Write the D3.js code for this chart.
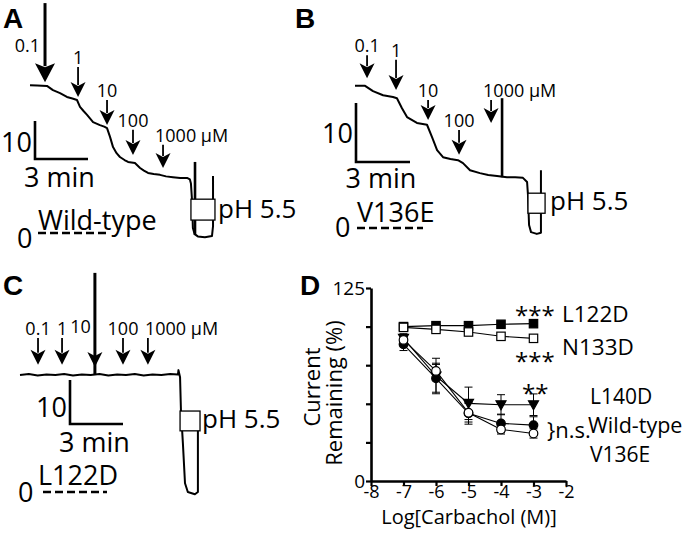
<!DOCTYPE html>
<html><head><meta charset="utf-8">
<script src="https://cdn.jsdelivr.net/npm/d3@7"></script>
<style>
body{margin:0;background:#fff}
svg{display:block}
text{font-family:'Open Sans',sans-serif;fill:#000}
</style></head>
<body><svg id="fig" width="690" height="536"></svg>
<script>
// ---------- DATA ----------
// Traces: [time (min), current (scale units)]
const traceA = [[0,38.9],[0.4,38.8],[0.96,38.7],[1.3,37.6],[1.7,36.8],[2.09,35.8],[2.4,35.4],[2.66,35.0],[2.83,33.2],[3.03,32.1],[3.23,31.1],[3.57,29.2],[3.96,28.4],[4.2,28.0],[4.36,27.6],[4.53,25.3],[4.7,22.6],[4.9,21.0],[5.09,20.0],[5.35,19.2],[5.55,18.7],[5.94,18.4],[6.23,17.1],[6.45,16.4],[6.68,15.8],[7.0,15.5],[7.36,15.3],[7.7,14.9],[8.09,14.7],[8.5,14.5],[8.89,14.5],[9.05,14.1],[9.11,13.0],[9.17,8.7],[9.22,1.3],[9.32,-0.3],[9.5,-0.9],[9.9,-1.1],[10.3,-0.8],[10.36,1.8],[10.36,15.0]];
const traceB = [[0,24.1],[0.56,24.1],[1.0,23.2],[1.56,22.5],[2.11,22.2],[2.33,22.0],[2.61,20.3],[2.89,18.8],[3.44,17.8],[4.0,17.5],[4.28,15.4],[4.56,13.2],[4.89,12.0],[5.3,11.7],[5.72,11.5],[6.0,11.0],[6.39,9.8],[6.94,9.3],[7.4,9.0],[7.89,8.8],[8.44,8.6],[8.9,8.6],[9.33,8.5],[9.56,7.8],[9.61,5.6],[9.67,0.5],[9.78,-0.7],[10.1,-1.0],[10.33,-0.8],[10.33,9.8]];
const traceC = [[0,26.6],[0.5,26.8],[1.0,26.5],[1.5,26.7],[2.0,26.6],[2.5,26.8],[3.0,26.5],[3.5,26.7],[4.0,26.6],[4.5,26.8],[5.0,26.5],[5.5,26.7],[6.0,26.6],[6.5,26.8],[7.0,26.5],[7.5,26.7],[8.0,26.6],[8.5,26.8],[8.94,26.7],[8.97,27.7],[9.06,26.1],[9.11,18.6],[9.22,11.1],[9.34,2.0],[9.5,0],[9.9,-0.5],[10.07,0],[10.07,14.1]];
// Carbachol application arrows: [label, time (min), tip current, top current]
const arrowsA = [["0.1",0.85,39.7,60.5],["1",2.72,35.8,43.7],["10",4.36,28.4,35.0],["100",5.83,20.5,27.2],["1000 μM",7.53,17.1,23.2]];
const arrowsB = [["0.1",0.67,25.4,29.3],["1",2.28,23.4,28.5],["10",4.06,18.3,21.7],["100",5.78,12.4,16.6],["1000 μM",7.56,17.8,21.7]];
const arrowsC = [["0.1",1.02,28.9,35.0],["1",2.38,28.9,35.0],["10",4.24,28.4,34.5],["100",5.83,28.9,35.0],["1000 μM",7.24,28.9,35.0]];
// Transient spikes: [time, top current, bottom current]
const spikeA = [9.34,18.7,-0.5];
const spikeB = [8.17,22.0,8.6];
const spikeC = [4.24,49.8,26.6];
// pH 5.5 marker box: [t start, t end, current top, current bottom]
const boxA = [9.11,10.47,8.9,3.4];
const boxB = [9.61,10.56,5.9,2.5];
const boxC = [9.06,10.19,18.4,13.9];
const genotypes = ["Wild-type","V136E","L122D"];

// Panel D: concentration-response
const logConc = [-7,-6,-5,-4,-3];
const L122D = [100,100.6,100.6,101.5,101.9];
const N133D = [99.5,98.2,96.5,93.7,92.4];
const L140D = [92.4,68,50.3,49.4,49.4];
const WT = [88.5,66.5,43.8,37.3,36.2];
const V136E = [91.4,71.3,44.2,33.4,30.8];
const L122Dsem = [1,1,1,1,1];
const N133Dsem = [1,1,1,1,1];
const L140Dsem = [3,11.5,10.5,6.5,7];
const WTsem = [4,9,7,6,5.4];
const V136Esem = [3,5,6,3,3];
const xTicks = [-8,-7,-6,-5,-4,-3,-2];
const yTicks = [0,25,50,75,100,125];
const yTickLabels = ["0","","","","","125"];

// ---------- DRAW ----------
const svg = d3.select("#fig");

function panelLetter(t,x,y){
  svg.append("text").attr("x",x).attr("y",y).text(t)
    .style("font-family","'Liberation Sans',Arial,sans-serif").style("font-weight","bold").style("font-size","28px");
}
panelLetter("A",3,28); panelLetter("B",295,28); panelLetter("C",3,295); panelLetter("D",300,295);

const layouts = [
  {trace:traceA, arrows:arrowsA, spike:spikeA, box:boxA, geno:genotypes[0], x0:30, pxMin:53/3, y0:233, pxUnit:3.8,
   bar:[35,159], zeroDash:[38,107], zeroLbl:[17,248], genoLbl:[38,230], pH:[218,218], tenLbl:152, minLbl:187},
  {trace:traceB, arrows:arrowsB, spike:spikeB, box:boxB, geno:genotypes[1], x0:355, pxMin:18, y0:228, pxUnit:5.9,
   bar:[356,162], zeroDash:[357,423], zeroLbl:[335,237], genoLbl:[357,222], pH:[550,210], tenLbl:143, minLbl:188},
  {trace:traceC, arrows:arrowsC, spike:spikeC, box:boxC, geno:genotypes[2], x0:20, pxMin:53/3, y0:492, pxUnit:4.4,
   bar:[70,424], zeroDash:[43,107], zeroLbl:[18,502], genoLbl:[38,485], pH:[202,428], tenLbl:417, minLbl:452}
];

layouts.forEach((L,pi)=>{
  const x = d3.scaleLinear().domain([0,12]).range([L.x0, L.x0 + 12*L.pxMin]);
  const y = d3.scaleLinear().domain([0,10]).range([L.y0, L.y0 - 10*L.pxUnit]);
  const g = svg.append("g");
  // trace
  g.append("path").datum(L.trace)
    .attr("d", d3.line().x(d=>x(d[0])).y(d=>y(d[1])))
    .attr("fill","none").attr("stroke","#000").attr("stroke-width",2).attr("stroke-linejoin","round");
  // spike
  g.append("line").attr("x1",x(L.spike[0])).attr("x2",x(L.spike[0]))
    .attr("y1",y(L.spike[1])).attr("y2",y(L.spike[2]))
    .attr("stroke","#000").attr("stroke-width",pi===2?3:2.6);
  // arrows
  L.arrows.forEach((a,i)=>{
    const ax = x(a[1]), tip = y(a[2]), top = y(a[3]);
    const big = (pi===0 && i===0);
    const hl = big?19:15, hw = big?10:7.5;
    g.append("line").attr("x1",ax).attr("x2",ax).attr("y1",top).attr("y2",tip-hl+3)
      .attr("stroke","#000").attr("stroke-width",big?3:1.8);
    g.append("path").attr("d",`M${ax},${tip} L${ax-hw},${tip-hl} L${ax},${tip-hl+4} L${ax+hw},${tip-hl} Z`).attr("fill","#000");
    // label
    const t = g.append("text").text(a[0]).style("font-size","18px");
    if(big){ t.attr("x",ax-5).attr("y",tip-30).attr("text-anchor","end"); }
    else if(a[0].indexOf("μ")>=0){ t.attr("x",ax-(pi===2?3:8)).attr("y",top-3); }
    else if(pi===2 && a[0]==="10"){ t.attr("x",ax-4).attr("y",top-7).attr("text-anchor","end"); }
    else { t.attr("x",ax).attr("y",top-3).attr("text-anchor","middle"); }
  });
  // pH box
  g.append("rect").attr("x",x(L.box[0])).attr("y",y(L.box[2]))
    .attr("width",x(L.box[1])-x(L.box[0])).attr("height",y(L.box[3])-y(L.box[2]))
    .attr("fill","#fff").attr("stroke","#000").attr("stroke-width",1.3);
  g.append("text").attr("x",L.pH[0]).attr("y",L.pH[1]).text("pH 5.5").style("font-size","26px");
  // scale bar
  const [bx,by] = L.bar;
  const vlen = y(0)-y(10), hlen = x(3)-x(0);
  g.append("path").attr("d",`M${bx},${by-vlen} L${bx},${by} L${bx+hlen},${by}`)
    .attr("fill","none").attr("stroke","#000").attr("stroke-width",2.6);
  g.append("text").attr("x",bx-3).attr("y",L.tenLbl).attr("text-anchor","end").text("10").style("font-size","27px");
  g.append("text").attr("x",bx+hlen/2-2).attr("y",L.minLbl).attr("text-anchor","middle").text("3 min").style("font-size","27px");
  // zero level
  g.append("line").attr("x1",L.zeroDash[0]).attr("x2",L.zeroDash[1]).attr("y1",y(0)).attr("y2",y(0))
    .attr("stroke","#000").attr("stroke-width",2.4).attr("stroke-dasharray","8,4");
  g.append("text").attr("x",L.zeroLbl[0]).attr("y",L.zeroLbl[1]).text("0").style("font-size","27px");
  g.append("text").attr("x",L.genoLbl[0]).attr("y",L.genoLbl[1]).text(L.geno).style("font-size","27px");
});

// ---------- Panel D ----------
const xD = d3.scaleLinear().domain([-8,-2]).range([371,566]);
const yD = d3.scaleLinear().domain([0,125]).range([481,288]);
const gD = svg.append("g");
const ax = gD.append("g").attr("transform","translate(371,0)")
  .call(d3.axisLeft(yD).tickValues(yTicks).tickSize(5).tickSizeOuter(0).tickFormat((d,i)=>yTickLabels[i]));
const bx = gD.append("g").attr("transform","translate(0,481)")
  .call(d3.axisBottom(xD).tickValues(xTicks).tickSize(5).tickSizeOuter(0).tickFormat(d=>String(d)));
[ax,bx].forEach(a=>{
  a.select(".domain").attr("stroke","#000").attr("stroke-width",2.6);
  a.selectAll(".tick line").attr("stroke","#000").attr("stroke-width",2.2);
  a.selectAll(".tick text").style("font-family","'Open Sans',sans-serif").style("font-size","19px").attr("fill","#000");
});
ax.selectAll(".tick text").attr("x",-6).attr("dy","0.34em");
bx.selectAll(".tick text").style("font-size","18px").attr("y",4).attr("dy","0.73em");

gD.append("text").attr("x",469).attr("y",524).attr("text-anchor","middle").text("Log[Carbachol (M)]").style("font-size","20px");
gD.append("text").attr("transform","translate(320,387) rotate(-90)").attr("text-anchor","middle").text("Current").style("font-size","22px");
gD.append("text").attr("transform","translate(342,393) rotate(-90)").attr("text-anchor","middle").text("Remaining (%)").style("font-size","22px");

const series = [
  {v:L122D, e:L122Dsem, type:"square", fill:"#000"},
  {v:N133D, e:N133Dsem, type:"square", fill:"#fff"},
  {v:L140D, e:L140Dsem, type:"tri", fill:"#000"},
  {v:WT, e:WTsem, type:"circle", fill:"#000"},
  {v:V136E, e:V136Esem, type:"circle", fill:"#fff"}
];
const lineD = d3.line().x((d,i)=>xD(logConc[i])).y(d=>yD(d));
series.forEach(s=>{
  gD.append("path").datum(s.v).attr("d",lineD).attr("fill","none").attr("stroke","#000").attr("stroke-width",1.1);
  s.v.forEach((v,i)=>{
    const cx = xD(logConc[i]);
    const t = yD(v+s.e[i]), b = yD(v-s.e[i]);
    gD.append("line").attr("x1",cx).attr("x2",cx).attr("y1",t).attr("y2",b).attr("stroke","#000").attr("stroke-width",1);
    [t,b].forEach(yy=>gD.append("line").attr("x1",cx-4).attr("x2",cx+4).attr("y1",yy).attr("y2",yy).attr("stroke","#000").attr("stroke-width",1));
  });
});
series.forEach(s=>{
  s.v.forEach((v,i)=>{
    const cx = xD(logConc[i]), cy = yD(v);
    let m;
    if(s.type==="square") m = gD.append("rect").attr("x",cx-4.2).attr("y",cy-4.2).attr("width",8.4).attr("height",8.4);
    else if(s.type==="circle") m = gD.append("circle").attr("cx",cx).attr("cy",cy).attr("r",4.3);
    else m = gD.append("path").attr("d",`M${cx-5},${cy-4} L${cx+5},${cy-4} L${cx},${cy+5} Z`);
    m.attr("fill",s.fill).attr("stroke","#000").attr("stroke-width",1.2);
  });
});

const ann = [["***",515,324,24],["***",515,370,24],["**",522,402,24],
  ["L122D",562,322,22.5],["N133D",562,355,22.5],["}n.s.",547,438,22],
  ["L140D",590,404,21],["Wild-type",588,433,21.5],["V136E",590,462,21]];
ann.forEach(a=>gD.append("text").attr("x",a[1]).attr("y",a[2]).text(a[0]).style("font-size",a[3]+"px"));
</script></body></html>
